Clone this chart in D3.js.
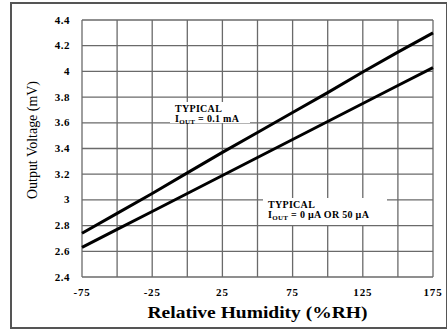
<!DOCTYPE html>
<html>
<head>
<meta charset="utf-8">
<script src="https://cdn.jsdelivr.net/npm/d3@7"></script>
<style>
  body { margin: 0; background: #fff; }
  text { font-family: "Liberation Serif", "DejaVu Serif", serif; }
</style>
</head>
<body>
<script>
// humidity points along the x axis (%RH)
var humidity = [-75, -50, -25, 0, 25, 50, 75, 100, 125, 150, 175];
// output voltage, Iout = 0.1 mA
var voltHigh = [2.74, 2.895, 3.05, 3.21, 3.37, 3.525, 3.68, 3.835, 3.995, 4.15, 4.3];
// output voltage, Iout = 0 uA or 50 uA
var voltLow = [2.63, 2.77, 2.91, 3.05, 3.19, 3.33, 3.47, 3.61, 3.75, 3.89, 4.03];

var xLabels = [-75, -25, 25, 75, 125, 175];
var yLabels = [2.4, 2.6, 2.8, 3, 3.2, 3.4, 3.6, 3.8, 4, 4.2, 4.4];

var W = 447, H = 330;
var m = {left: 82, top: 20, right: 433, bottom: 277};

var svg = d3.select("body").append("svg")
    .attr("width", W)
    .attr("height", H);

// outer frame
svg.append("rect")
    .attr("x", 11).attr("y", 3)
    .attr("width", 436).attr("height", 325)
    .attr("fill", "none")
    .attr("stroke", "#555")
    .attr("stroke-width", 2);

var x = d3.scaleLinear().domain([-75, 175]).range([m.left, m.right]);
var y = d3.scaleLinear().domain([2.4, 4.4]).range([m.bottom, m.top]);

// grid
var g = svg.append("g");
g.selectAll(".vx").data(d3.range(-75, 176, 25)).join("line")
    .attr("x1", d => x(d)).attr("x2", d => x(d))
    .attr("y1", m.top).attr("y2", m.bottom)
    .attr("stroke", "#6a6a6a").attr("stroke-width", 1.3);
g.selectAll(".hy").data(yLabels).join("line")
    .attr("x1", m.left).attr("x2", m.right)
    .attr("y1", d => y(d)).attr("y2", d => y(d))
    .attr("stroke", "#6a6a6a").attr("stroke-width", 1.3);

// tick labels
svg.append("g").selectAll("text").data(xLabels).join("text")
    .attr("x", d => x(d)).attr("y", 296)
    .attr("text-anchor", "middle")
    .attr("font-size", 11).attr("font-weight", "bold")
    .attr("letter-spacing", 0.8)
    .text(d => d);
svg.append("g").selectAll("text").data(yLabels).join("text")
    .attr("x", 70).attr("y", d => y(d) + 3.5)
    .attr("text-anchor", "end")
    .attr("font-size", 11).attr("font-weight", "bold")
    .attr("letter-spacing", 0.5)
    .text(d => d);

// axis titles
svg.append("text")
    .attr("x", (m.left + m.right) / 2).attr("y", 318)
    .attr("text-anchor", "middle")
    .attr("font-size", 16).attr("font-weight", "bold")
    .attr("textLength", 220).attr("lengthAdjust", "spacingAndGlyphs")
    .text("Relative Humidity (%RH)");
svg.append("text")
    .attr("transform", "translate(37,140) rotate(-90)")
    .attr("text-anchor", "middle")
    .attr("font-size", 14)
    .attr("textLength", 118).attr("lengthAdjust", "spacingAndGlyphs")
    .text("Output Voltage (mV)");

// curves
var line = d3.line().x((d, i) => x(humidity[i])).y(d => y(d));
[voltHigh, voltLow].forEach(function(s) {
  svg.append("path").datum(s)
      .attr("d", line)
      .attr("fill", "none")
      .attr("stroke", "#000")
      .attr("stroke-width", 3);
});

// annotations
function note(bx, by, bw, bh, lines, fs) {
  svg.append("rect").attr("x", bx).attr("y", by)
      .attr("width", bw).attr("height", bh).attr("fill", "#fff");
  lines.forEach(function(l, i) {
    var t = svg.append("text")
        .attr("x", bx + 5).attr("y", by + 10 + i * 9.5)
        .attr("font-size", fs).attr("font-weight", "bold")
        .attr("letter-spacing", 0.3);
    if (l.sub) {
      t.append("tspan").text("I");
      t.append("tspan").attr("font-size", fs * 0.7).attr("dy", 2).text("OUT");
      t.append("tspan").attr("dy", -2).text(l.rest);
    } else {
      t.text(l.text);
    }
  });
}
note(170, 102, 80, 21, [{text: "TYPICAL"}, {sub: true, rest: " = 0.1 mA"}], 10);
note(263, 198, 124, 27, [{text: "TYPICAL"}, {sub: true, rest: " = 0 \u00b5A OR 50 \u00b5A"}], 10);
</script>
</body>
</html>
